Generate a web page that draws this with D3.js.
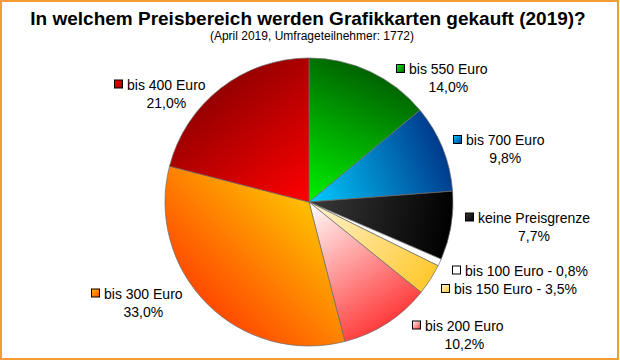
<!DOCTYPE html>
<html>
<head>
<meta charset="utf-8">
<script src="https://cdn.jsdelivr.net/npm/d3@7/dist/d3.min.js"></script>
<style>
html,body{margin:0;padding:0;background:#fff;}
svg{display:block;}
text{font-family:"Liberation Sans",Arial,sans-serif;}
</style>
</head>
<body>
<svg id="chart" width="620" height="360"></svg>
<script>
// ---- data ----
const categories = ["bis 550 Euro","bis 700 Euro","keine Preisgrenze","bis 100 Euro","bis 150 Euro","bis 200 Euro","bis 300 Euro","bis 400 Euro"];
const values = [14.0, 9.8, 7.7, 0.8, 3.5, 10.2, 33.0, 21.0];
const title = "In welchem Preisbereich werden Grafikkarten gekauft (2019)?";
const subtitle = "(April 2019, Umfrageteilnehmer: 1772)";

// ---- styles / layout ----
const innerColors = ["#00f000","#00ccff","#3a3a3a","#ffffff","#fff4d6","#ffffff","#ffc000","#ff0000"];
const outerColors = ["#006400","#003a8c","#000000","#ffffff","#ffc92e","#ff3c3c","#ff4a00","#960000"];
// label anchor: [square x, baseline y, single line?]
const labelPos = [[396,74,false],[453,145,false],[465,222.5,false],[452,275.5,true],[441,294,true],[412,330.5,false],[91,298.5,false],[114,89.5,false]];

const W = 620, H = 360, cx = 309, cy = 202, R = 144;
const svg = d3.select("#chart");
const defs = svg.append("defs");

svg.append("rect").attr("x",1).attr("y",1).attr("width",W-3).attr("height",H-2)
  .attr("fill","#fff").attr("stroke","#f39c34").attr("stroke-width",2);

svg.append("text").attr("x",308).attr("y",25).attr("text-anchor","middle")
  .attr("font-size",19).attr("font-weight","bold").attr("fill","#000").text(title);
svg.append("text").attr("x",312).attr("y",40).attr("text-anchor","middle")
  .attr("font-size",12).attr("fill","#000").text(subtitle);

const pie = d3.pie().sort(null).value(d => d)(values);
const arc = d3.arc().innerRadius(0).outerRadius(R);
const fmt = v => d3.format(".1f")(v).replace(".", ",") + "%";

pie.forEach((p,i) => {
  const mid = (p.startAngle + p.endAngle)/2;
  const g = defs.append("linearGradient").attr("id","g"+i).attr("gradientUnits","userSpaceOnUse")
    .attr("x1",0).attr("y1",0).attr("x2",R*Math.sin(mid)).attr("y2",-R*Math.cos(mid));
  g.append("stop").attr("offset","0").attr("stop-color",innerColors[i]);
  g.append("stop").attr("offset","1").attr("stop-color",outerColors[i]);
  const s = defs.append("linearGradient").attr("id","s"+i)
    .attr("x1",0).attr("y1",0).attr("x2",1).attr("y2",1);
  s.append("stop").attr("offset","0").attr("stop-color",innerColors[i]);
  s.append("stop").attr("offset","1").attr("stop-color",outerColors[i]);
});

const pg = svg.append("g").attr("transform",`translate(${cx},${cy})`);
pg.selectAll("path").data(pie).join("path")
  .attr("d", arc)
  .attr("fill",(d,i)=>`url(#g${i})`)
  .attr("stroke","#6b6b6b").attr("stroke-width",0.7).attr("stroke-linejoin","round");

const lg = svg.append("g");
pie.forEach((p,i) => {
  const [sx, by, single] = labelPos[i];
  lg.append("rect").attr("x",sx+0.5).attr("y",by-9.5).attr("width",8).attr("height",8)
    .attr("fill",`url(#s${i})`).attr("stroke","#000").attr("stroke-width",1);
  const tx = sx + 13;
  if (single) {
    lg.append("text").attr("x",tx).attr("y",by).attr("font-size",14).attr("fill","#000")
      .text(categories[i] + " - " + fmt(values[i]));
  } else {
    const t = lg.append("text").attr("x",tx).attr("y",by).attr("font-size",14).attr("fill","#000")
      .text(categories[i]);
    const w = t.node().getComputedTextLength();
    lg.append("text").attr("x",tx + w/2).attr("y",by+18).attr("text-anchor","middle")
      .attr("font-size",14).attr("fill","#000").text(fmt(values[i]));
  }
});
</script>
</body>
</html>
